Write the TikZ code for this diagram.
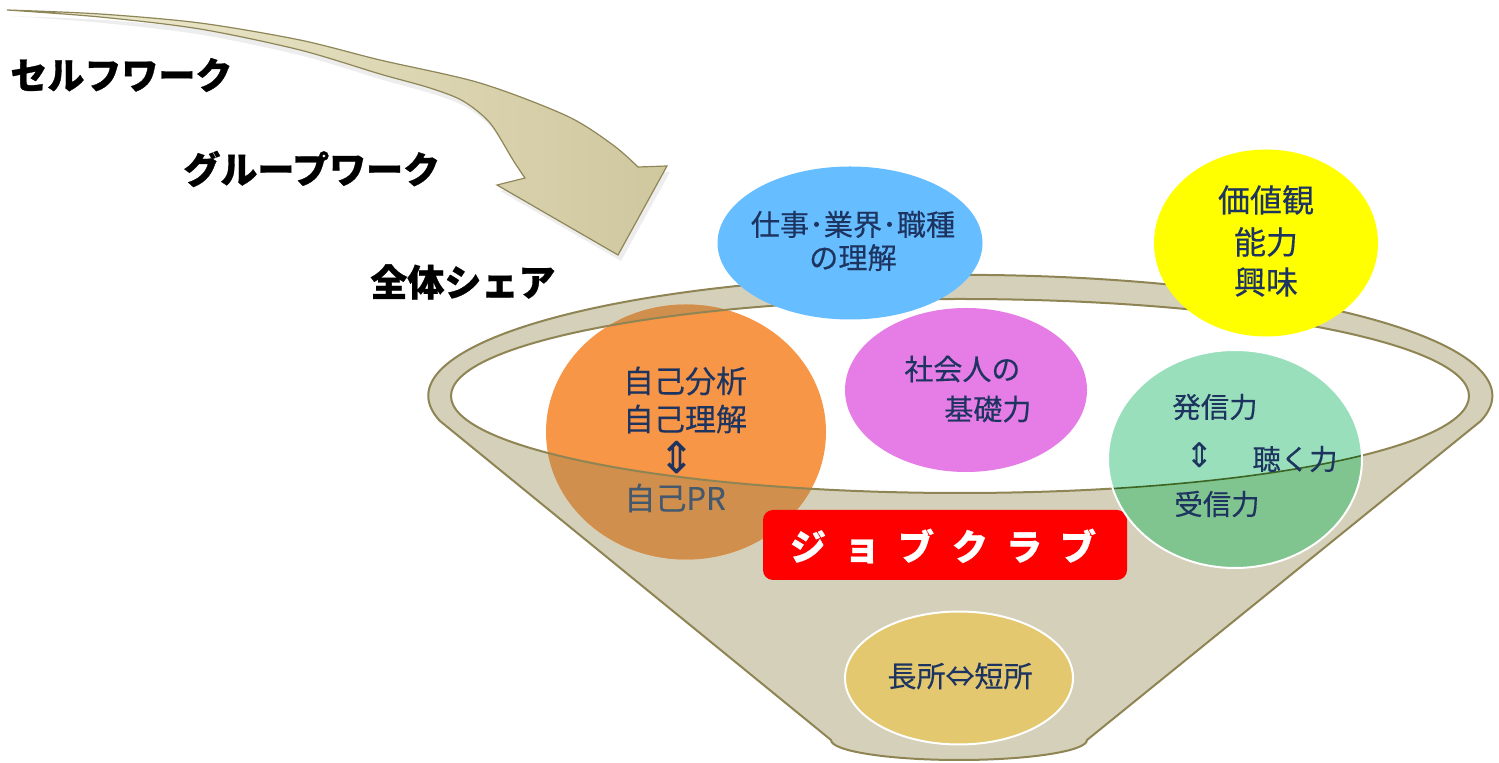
\documentclass[tikz,border=0pt]{standalone}
\usepackage{fontspec}
\newfontfamily\jp{Noto Sans CJK JP}[FakeBold=0.3]
\newfontfamily\jpb{Noto Sans CJK JP}[BoldFeatures={FakeBold=0.8}]
\newfontfamily\dv{DejaVu Sans}
\usetikzlibrary{shapes.geometric}
\definecolor{rimfill}{HTML}{D5D0B9}
\definecolor{rimline}{HTML}{8F8454}
\definecolor{navy}{HTML}{1E3460}
\definecolor{slate}{HTML}{44596E}
\definecolor{cblue}{HTML}{66BDFF}
\definecolor{cyellow}{HTML}{FFFF00}
\definecolor{cpink}{HTML}{E67CE6}
\definecolor{corange}{HTML}{F79646}
\definecolor{corangedk}{HTML}{D08F4C}
\definecolor{cgreen}{HTML}{99DFBB}
\definecolor{cgreendk}{HTML}{80C48F}
\definecolor{cgold}{HTML}{E3C870}
\definecolor{arrowlt}{HTML}{F0EDD2}
\definecolor{arrowdk}{HTML}{CFC79E}
\definecolor{arrowln}{HTML}{8E8658}
\tikzset{
  lbl/.style={font=\jpb\bfseries\fontsize{18.5}{20}\selectfont, anchor=west, inner sep=0pt, text=black},
  txt/.style={font=\jp\fontsize{#1}{#1}\selectfont, text=navy, align=center, inner sep=0pt},
  blob/.style={ellipse, draw=none, inner sep=0pt, outer sep=0pt},
  arrowpath/.style={insert path={
    plot[smooth, tension=0.5] coordinates {(7,10) (100,14) (200,23) (300,40) (380,60) (480,83) (567,116) (613,145) (638,167)}
    -- (667,166) -- (618,255) -- (497,185)
    -- plot[smooth, tension=0.5] coordinates {(525,178) (513,160) (490,123) (463,101) (430,88) (380,74) (300,50) (200,29) (100,17) (7,10)}
    -- cycle}},
}
\begin{document}
\begin{tikzpicture}[x=0.5pt,y=-0.5pt]
\useasboundingbox (0,0) rectangle (1499,763);
% curved arrow
\fill[black, opacity=0.07, xshift=1.5pt, yshift=-3pt, arrowpath];
\draw[draw=arrowln, line width=0.6pt, left color=arrowlt, right color=arrowdk, arrowpath];
\coordinate (arrowtip) at (618,255);
% labels
\node[lbl] (self) at (10,75) {セルフワーク};
\node[lbl] (group) at (183,169) {グループワーク};
\node[lbl] (share) at (370,282) {全体シェア};
% funnel
\path[fill=rimfill, draw=rimline, line width=1pt]
  (440,421) arc[start angle=168, end angle=372, x radius=532, y radius=121]
  -- (1087,740) arc[start angle=0, end angle=180, x radius=128, y radius=20] -- cycle;
\path[fill=white, draw=rimline, line width=1pt] (960,396) ellipse[x radius=509, y radius=97];
% top ellipses
\node[blob, fill=cblue, minimum width=132.5pt, minimum height=76.5pt] (job) at (850,243) {};
\node[txt=14.6, align=center] at (853,241) {仕事･業界･職種\\[2pt]の理解};
\node[blob, fill=cyellow, minimum width=112pt, minimum height=93.5pt] (val) at (1266,243) {};
\node[txt=16] at (1266,200) {価値観};
\node[txt=16] at (1266,242) {能力};
\node[txt=16] at (1266,282) {興味};
\node[blob, fill=cpink, minimum width=121pt, minimum height=82pt] (soc) at (966,390) {};
\node[txt=14.5, anchor=west] at (904,369) {社会人の};
\node[txt=14.5, anchor=west] at (944,409) {基礎力};
% orange
\node[blob, fill=corange, minimum width=140pt, minimum height=127.5pt] (self2) at (686,432) {};
\begin{scope}
  \clip (686,432) ellipse[x radius=140, y radius=127.5];
  \fill[corangedk, even odd rule] (0,300) rectangle (1499,763) (960,396) ellipse[x radius=509, y radius=97];
  \draw[rimline, line width=1pt] (960,396) ellipse[x radius=509, y radius=97];
\end{scope}
\node[txt=15.5] at (685,381) {自己分析};
\node[txt=15.5] at (685,419) {自己理解};
\node[font=\dv\fontsize{22}{22}\selectfont, text=navy, inner sep=0pt] at (677,458) {⇕};
\node[txt=15.5, text=slate, anchor=west] at (624,498) {自己PR};
% red box
\node[fill=red, rounded corners=5pt, minimum width=182pt, minimum height=35pt, inner sep=0pt] (club) at (945,545) {};
\node[font=\jpb\bfseries\fontsize{18}{18}\selectfont, text=white, inner sep=0pt] at (943,546)
  {ジ\kern9ptョ\kern9ptブ\kern9ptク\kern9ptラ\kern9ptブ};
% green
\node[blob, fill=cgreen, minimum width=127pt, minimum height=109pt] (com) at (1235,459) {};
\begin{scope}
  \clip (1235,459) ellipse[x radius=127, y radius=109];
  \fill[cgreendk, even odd rule] (0,300) rectangle (1499,763) (960,396) ellipse[x radius=509, y radius=97];
  \draw[rimline!70!green!60!black, line width=0.8pt] (960,396) ellipse[x radius=509, y radius=97];
\end{scope}
\draw[white, line width=1pt] (1235,459) ellipse[x radius=127, y radius=109];
\node[txt=14.2, anchor=west] at (1172,407) {発信力};
\node[font=\dv\fontsize{17}{17}\selectfont, text=navy, inner sep=0pt] at (1200,455) {⇕};
\node[txt=14.2, anchor=west] at (1252,459) {聴く力};
\node[txt=14.2, anchor=west] at (1174,504) {受信力};
% gold
\node[blob, fill=cgold, draw=white, line width=1pt, minimum width=114pt, minimum height=66.5pt] (pros) at (959,678) {};
\node[txt=14.5] at (960,676) {長所⇔短所};
\end{tikzpicture}
\end{document}
